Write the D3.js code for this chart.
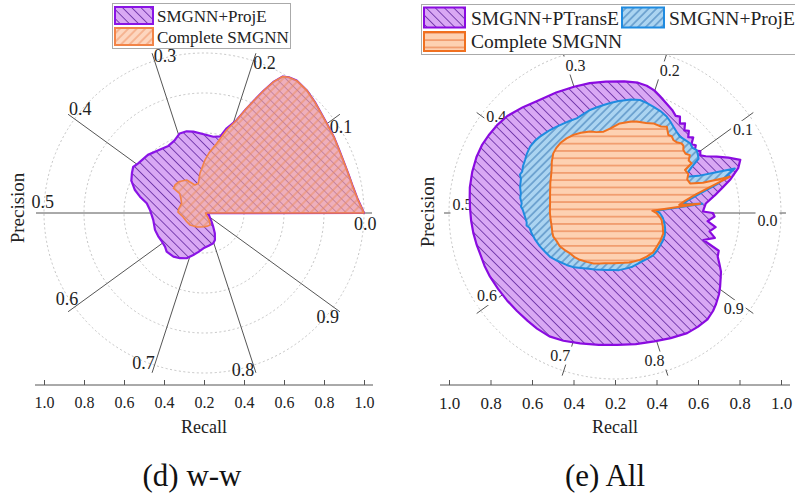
<!DOCTYPE html>
<html>
<head>
<meta charset="utf-8">
<script src="https://cdn.jsdelivr.net/npm/d3@7"></script>
<style>
  body { margin: 0; background: #fff; }
</style>
</head>
<body>
<div id="chart"></div>
<script>
var FONT = "'Liberation Serif', 'Times New Roman', serif";

// spoke labels (threshold), recall axis ticks
var thresholds = [0.0, 0.1, 0.2, 0.3, 0.4, 0.5, 0.6, 0.7, 0.8, 0.9];
var recallTicks = [-1, -0.75, -0.5, -0.25, 0, 0.25, 0.5, 0.75, 1];
var recallLabels = ["1.0", "0.8", "0.6", "0.4", "0.2", "0.4", "0.6", "0.8", "1.0"];
var rings = [0.25, 0.5, 0.75, 1.0];

// (d) w-w  : [angle in degrees, radius]
var wwProjE = [[0,1.0],[5,0.965],[10,0.945],[15,0.935],[20,0.93],[25,0.932],[30,0.94],[35,0.947],[40,0.96],[45,0.98],[50,1.0],[55,1.01],[58,1.0],[60,0.985],[62,0.93],[64,0.85],[66,0.77],[68,0.7],[70.6,0.616],[75,0.548],[78,0.49],[83,0.48],[88,0.488],[97.5,0.513],[102,0.522],[107,0.52],[112,0.49],[118,0.475],[126,0.485],[134,0.505],[143,0.515],[147,0.528],[151,0.515],[156,0.497],[161.6,0.455],[165.7,0.413],[170.4,0.363],[176.8,0.338],[188,0.32],[199,0.324],[207,0.321],[214,0.318],[220.8,0.322],[226,0.336],[235,0.333],[242,0.32],[249,0.303],[255.7,0.271],[262,0.245],[269,0.221],[278,0.207],[287,0.198],[292,0.182],[298,0.144],[304,0.103],[311,0.072],[320,0.05],[335,0.035],[350,0.02],[358,0.012]];
var wwComplete = [[0,1.0],[5,0.965],[10,0.945],[15,0.935],[20,0.93],[25,0.932],[30,0.94],[35,0.947],[40,0.96],[45,0.98],[50,1.0],[55,1.01],[58,1.0],[60,0.985],[62,0.93],[64,0.85],[66,0.77],[68,0.7],[70.6,0.616],[74.7,0.538],[79.7,0.442],[85,0.38],[89,0.331],[95.8,0.25],[100.8,0.189],[108,0.184],[117.6,0.233],[128,0.25],[136,0.252],[141,0.246],[141.5,0.194],[150,0.165],[157,0.152],[170,0.16],[178,0.163],[190,0.134],[205,0.122],[221,0.115],[240,0.1],[254,0.091],[270,0.086],[285,0.085],[297,0.084],[305,0.06],[315,0.027],[330,0.015],[345,0.012],[358,0.01]];

// (e) All
var allPTransE = [[0,0.59],[1,0.53],[6,0.55],[10,0.61],[13,0.66],[16,0.72],[20,0.79],[23,0.82],[26,0.76],[29,0.7],[32,0.645],[34,0.62],[36,0.635],[38,0.61],[40,0.635],[42,0.62],[44,0.655],[46,0.635],[48,0.665],[50,0.65],[52,0.685],[54,0.665],[56,0.7],[58,0.69],[61,0.71],[65,0.73],[69,0.755],[72,0.775],[76,0.79],[80,0.797],[86,0.795],[94,0.793],[101,0.797],[108,0.8],[116,0.808],[124,0.82],[131,0.845],[138,0.873],[143,0.885],[148,0.893],[153,0.9],[158,0.9],[164,0.895],[170,0.888],[174,0.88],[178,0.874],[183,0.868],[188,0.862],[193,0.855],[197,0.849],[202,0.848],[207,0.845],[213,0.84],[219,0.837],[225,0.835],[231,0.836],[236,0.84],[242,0.842],[248,0.83],[255,0.813],[263,0.8],[271,0.795],[279,0.8],[287,0.809],[294,0.825],[301,0.844],[306,0.848],[311,0.849],[315,0.835],[318,0.819],[322,0.795],[325,0.773],[328,0.75],[331,0.73],[334,0.7],[337,0.672],[340,0.665],[343,0.556],[346,0.62],[349,0.58],[352,0.612],[355,0.56],[358,0.6]];
var allProjE = [[0,0.27],[3,0.25],[6,0.53],[7.5,0.41],[10,0.45],[13,0.53],[16,0.65],[20.4,0.77],[22,0.65],[24,0.55],[26.9,0.484],[29,0.5],[31,0.54],[33,0.6],[35,0.61],[37.6,0.621],[40,0.61],[42.9,0.617],[46,0.61],[49.6,0.604],[53,0.615],[56,0.628],[59,0.645],[61.8,0.659],[66,0.672],[70,0.68],[74,0.69],[77.5,0.697],[82,0.69],[88,0.675],[92,0.665],[96,0.654],[100,0.645],[104,0.638],[108,0.625],[112,0.615],[116,0.618],[120,0.622],[124,0.628],[129,0.636],[134.5,0.645],[138,0.65],[142,0.649],[146,0.64],[149.5,0.629],[153,0.622],[156,0.612],[158,0.618],[160,0.603],[162,0.598],[164.5,0.594],[168,0.58],[171,0.578],[174,0.565],[176,0.568],[178,0.556],[182.3,0.543],[186,0.535],[188,0.538],[190,0.522],[193.7,0.517],[198,0.508],[204,0.495],[209,0.482],[214,0.472],[220,0.45],[227,0.428],[233,0.41],[240,0.384],[245,0.37],[250,0.362],[256,0.352],[262,0.347],[268,0.343],[274,0.345],[282,0.341],[288,0.34],[294,0.336],[300,0.334],[306,0.338],[312,0.343],[318,0.34],[324,0.335],[330,0.333],[336,0.328],[342,0.318],[348,0.305],[354,0.29],[357,0.28]];
var allComplete = [[0,0.25],[3.5,0.225],[6.2,0.515],[7.2,0.39],[10,0.43],[13,0.5],[17.5,0.727],[19,0.56],[21.5,0.486],[25,0.48],[28,0.5],[31.6,0.495],[33,0.55],[35.5,0.545],[37.7,0.57],[40,0.555],[42.7,0.56],[44.5,0.578],[46.3,0.58],[49,0.565],[51.4,0.563],[53.5,0.575],[55.6,0.569],[59,0.606],[62,0.59],[66.8,0.587],[71,0.573],[76.7,0.566],[80,0.56],[87,0.54],[93,0.511],[98,0.495],[103,0.5],[107,0.513],[113,0.525],[118,0.533],[123,0.536],[128,0.535],[132,0.528],[136,0.517],[141,0.49],[146,0.461],[150,0.445],[155,0.43],[159,0.418],[163,0.409],[168,0.4],[172,0.395],[176,0.393],[180,0.392],[186,0.39],[192,0.39],[197,0.395],[201,0.398],[206,0.39],[211,0.388],[216,0.377],[222,0.364],[228,0.36],[233,0.353],[240,0.34],[247,0.33],[253,0.318],[258,0.31],[263,0.305],[268,0.303],[274,0.302],[280,0.305],[286,0.31],[291,0.313],[298,0.32],[306,0.325],[314,0.33],[321,0.323],[329,0.32],[337,0.316],[341,0.305],[344,0.3],[348,0.29],[351,0.285],[354,0.275],[357,0.262]];

var svg = d3.select("#chart")
    .append("svg")
    .attr("width", 795)
    .attr("height", 499)
    .style("background-color", "#fff")
    .style("font-family", FONT);

var defs = svg.append("defs");

// hatch pattern helper
function hatch(id, bg, color, angle, gap, sw) {
    var p = defs.append("pattern")
        .attr("id", id)
        .attr("patternUnits", "userSpaceOnUse")
        .attr("width", gap)
        .attr("height", gap)
        .attr("patternTransform", "rotate(" + angle + ")");
    p.append("rect").attr("width", gap).attr("height", gap).attr("fill", bg);
    p.append("line")
        .attr("x1", gap / 2).attr("y1", 0)
        .attr("x2", gap / 2).attr("y2", gap)
        .attr("stroke", color)
        .attr("stroke-width", sw);
}
hatch("hPurple", "#d9a8f4", "#6e36a8", -45, 6.5, 0.9);
hatch("hBlue", "#abd4f1", "#2e6fae", 45, 5.5, 0.9);
hatch("hOrangeH", "#fdd1b2", "#e8743a", 90, 7.3, 1);
hatch("hOrangeL", "rgba(252,180,150,0.6)", "#ec8a58", 45, 6, 0.9);
hatch("hOrangeLeg", "#fdd6bf", "#ec8a58", 45, 6, 0.9);

var angle = d3.scaleLinear().domain([0, 360]).range([Math.PI / 2, Math.PI / 2 - 2 * Math.PI]);

function polar(cx, cy, r, deg) {
    var a = angle(deg);
    return [cx + r * Math.sin(a), cy - r * Math.cos(a)];
}

// draws one polar panel
function panel(cx, cy, R, series, opt) {
    var g = svg.append("g");
    var rs = d3.scaleLinear().domain([0, 1]).range([0, R]);

    // dotted rings
    g.selectAll(".ring")
        .data(rings)
        .enter()
        .append("circle")
        .attr("cx", cx).attr("cy", cy)
        .attr("r", d => rs(d))
        .attr("fill", "none")
        .attr("stroke", "#c4c4c4")
        .attr("stroke-dasharray", "2,2.5");

    // spokes
    g.selectAll(".spoke")
        .data(thresholds)
        .enter()
        .append("line")
        .attr("x1", cx).attr("y1", cy)
        .attr("x2", d => polar(cx, cy, rs(opt.spokeR), d * 360)[0])
        .attr("y2", d => polar(cx, cy, rs(opt.spokeR), d * 360)[1])
        .attr("stroke", "#555")
        .attr("stroke-width", 1);

    // spoke labels
    var lab = g.selectAll(".lab")
        .data(thresholds)
        .enter()
        .append("g")
        .attr("transform", function (d) {
            var p = polar(cx, cy, rs(opt.labelR), d * 360 + opt.labelShift);
            return "translate(" + p[0] + "," + p[1] + ")";
        });
    if (opt.labelBg) {
        lab.append("rect")
            .attr("x", -12).attr("y", -9)
            .attr("width", 24).attr("height", 18)
            .attr("fill", "#fff");
    }
    lab.append("text")
        .attr("text-anchor", "middle")
        .attr("dy", "0.33em")
        .attr("font-size", opt.labelSize + "px")
        .attr("fill", "#222")
        .text(d => d.toFixed(1));

    // areas
    var line = d3.lineRadial()
        .angle(d => angle(d[0]))
        .radius(d => rs(d[1]))
        .curve(d3.curveLinearClosed);
    series.forEach(function (s) {
        g.append("path")
            .attr("transform", "translate(" + cx + "," + cy + ")")
            .attr("d", line(s.data))
            .attr("fill", "url(#" + s.fill + ")")
            .attr("stroke", s.stroke)
            .attr("stroke-width", s.sw)
            .attr("stroke-linejoin", "round");
    });

    // recall axis
    var xs = d3.scaleLinear().domain([-1, 1]).range([cx - R, cx + R]);
    var ax = g.append("g")
        .attr("transform", "translate(0,385)")
        .call(d3.axisBottom(xs)
            .tickValues(recallTicks)
            .tickFormat((d, i) => recallLabels[i])
            .tickSizeInner(-5)
            .tickSizeOuter(0)
            .tickPadding(12));
    ax.select(".domain").remove();
    ax.attr("font-family", null);
    ax.selectAll("line").attr("stroke", "#555");
    ax.selectAll("text")
        .style("font-family", FONT)
        .attr("font-size", opt.tickSize + "px")
        .attr("fill", "#222");
    ax.append("line")
        .attr("x1", cx - R - 9).attr("x2", cx + R + 9)
        .attr("y1", 0).attr("y2", 0)
        .attr("stroke", "#555");

    g.append("text")
        .attr("x", cx).attr("y", 433)
        .attr("text-anchor", "middle")
        .attr("font-size", "18px")
        .attr("fill", "#222")
        .text("Recall");

    g.append("text")
        .attr("transform", "translate(" + opt.precX + "," + opt.precY + ") rotate(-90)")
        .attr("text-anchor", "middle")
        .attr("font-size", "19px")
        .attr("fill", "#222")
        .text("Precision");

    g.append("text")
        .attr("x", opt.titleX).attr("y", 486)
        .attr("text-anchor", "middle")
        .attr("font-size", "31px")
        .attr("fill", "#111")
        .text(opt.title);
}

panel(204, 213, 160, [
    { data: wwProjE, fill: "hPurple", stroke: "#8a14e6", sw: 2.2 },
    { data: wwComplete, fill: "hOrangeL", stroke: "#f28448", sw: 1.6 }
], { spokeR: 1.05, labelR: 1.01, labelShift: -4, labelSize: 18, labelBg: false,
     tickSize: 16, precX: 24, precY: 208, titleX: 192, title: "(d) w-w" });

panel(615, 213, 166, [
    { data: allPTransE, fill: "hPurple", stroke: "#8a0be0", sw: 2.2 },
    { data: allProjE, fill: "hBlue", stroke: "#1f8be0", sw: 2 },
    { data: allComplete, fill: "hOrangeH", stroke: "#f07020", sw: 2 }
], { spokeR: 1.03, labelR: 0.92, labelShift: -3, labelSize: 16, labelBg: true,
     tickSize: 17, precX: 434, precY: 212, titleX: 605, title: "(e) All" });

// legends
function legend(x, y, w, h, items, fs) {
    var g = svg.append("g");
    g.append("rect")
        .attr("x", x).attr("y", y)
        .attr("width", w).attr("height", h)
        .attr("fill", "#fff")
        .attr("stroke", "#aaa");
    items.forEach(function (it) {
        g.append("rect")
            .attr("x", it.px).attr("y", it.py)
            .attr("width", it.pw).attr("height", it.ph)
            .attr("fill", "url(#" + it.fill + ")")
            .attr("stroke", it.stroke)
            .attr("stroke-width", 2);
        g.append("text")
            .attr("x", it.tx).attr("y", it.ty)
            .attr("font-size", fs + "px")
            .attr("fill", "#222")
            .text(it.label);
    });
}

legend(112.5, 3.5, 178, 45, [
    { px: 115, py: 7, pw: 38, ph: 17, fill: "hPurple", stroke: "#8a14e6", tx: 157, ty: 22, label: "SMGNN+ProjE" },
    { px: 115, py: 28, pw: 38, ph: 17, fill: "hOrangeLeg", stroke: "#f28448", tx: 157, ty: 43, label: "Complete SMGNN" }
], 17);

legend(421.5, 4.5, 380, 50, [
    { px: 424, py: 7.5, pw: 41, ph: 20, fill: "hPurple", stroke: "#8a0be0", tx: 471, ty: 25, label: "SMGNN+PTransE" },
    { px: 622, py: 7.5, pw: 42, ph: 20, fill: "hBlue", stroke: "#1f8be0", tx: 669, ty: 25, label: "SMGNN+ProjE" },
    { px: 424, py: 32, pw: 41, ph: 19, fill: "hOrangeH", stroke: "#f07020", tx: 471, ty: 48, label: "Complete SMGNN" }
], 19.5);
</script>
</body>
</html>
